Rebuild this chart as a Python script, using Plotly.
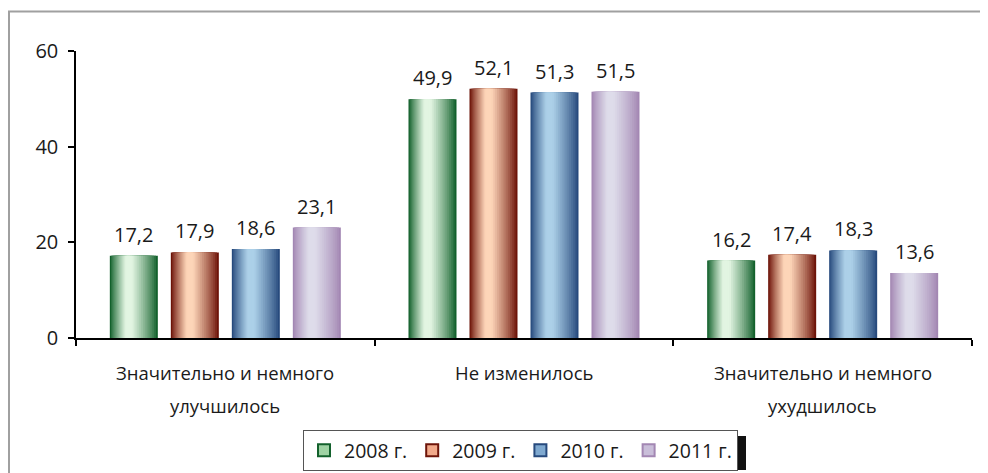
import plotly.graph_objects as go

# ---------------- data ----------------
categories = ["Значительно и немного улучшилось", "Не изменилось",
              "Значительно и немного ухудшилось"]
category_lines = [["Значительно и немного", "улучшилось"],
                  ["Не изменилось"],
                  ["Значительно и немного", "ухудшилось"]]
series_names = ["2008 г.", "2009 г.", "2010 г.", "2011 г."]
v2008 = [17.2, 49.9, 16.2]
v2009 = [17.9, 52.1, 17.4]
v2010 = [18.6, 51.3, 18.3]
v2011 = [23.1, 51.5, 13.6]
series_values = [v2008, v2009, v2010, v2011]
y_ticks = [0, 20, 40, 60]

# ---------------- styles ----------------
FONT = "Open Sans"
TXT = "#1a1a1a"
edge_colors = ["#13612c", "#6d1409", "#274a7d", "#a387b3"]
light_colors = ["#e2f5e2", "#fdd5b8", "#acd0e8", "#dedcea"]
legend_fill = ["#9fd3a4", "#f2a98a", "#7fa9d0", "#c9bed9"]

OFF = 8  # page body margin
W, H = 988 - OFF, 473 - OFF
L, T = 76 - OFF, 51 - OFF
R = W - (972 - OFF)
B = H - (338 - OFF)
PW = W - L - R
PH = H - T - B
cat_px = PW / 3.0
slot = 61 / cat_px
bw = 48 / cat_px
N = 16
peak = 0.38


def hex2rgb(h):
    h = h.lstrip("#")
    return tuple(int(h[i:i + 2], 16) for i in (0, 2, 4))


def mix(a, b, t):
    ra, rb = hex2rgb(a), hex2rgb(b)
    return "rgb(%d,%d,%d)" % tuple(round(ra[i] + (rb[i] - ra[i]) * t) for i in range(3))


def px_x(p):
    return (p - OFF - L) / PW


def px_y(p):
    return (T + PH - (p - OFF)) / PH


fig = go.Figure()

for i, (name, vals) in enumerate(zip(series_names, series_values)):
    center = (i - 1.5) * slot
    for k in range(N):
        t = k / N
        left = -bw / 2 + t * bw * peak
        right = bw / 2 - t * bw * (1 - peak)
        fig.add_trace(go.Bar(
            x=categories, y=vals,
            width=right - left, offset=center + left,
            marker=dict(color=mix(edge_colors[i], light_colors[i], min(1.0, (t * 1.2) ** 0.85)),
                        line=dict(width=0)),
            showlegend=False, hoverinfo="skip",
        ))
    # legend entry
    fig.add_trace(go.Bar(
        x=[None], y=[None], name=name,
        marker=dict(color=legend_fill[i], line=dict(color=edge_colors[i], width=2)),
        showlegend=True,
    ))
    # value labels
    for j, v in enumerate(vals):
        fig.add_annotation(
            x=j + center, y=v, xref="x", yref="y",
            text=("%.1f" % v).replace(".", ","),
            showarrow=False, yanchor="bottom", yshift=6,
            font=dict(family=FONT, size=20, color=TXT),
        )

# category labels
line_y = [px_y(372), px_y(405)]
for j, lines in enumerate(category_lines):
    for li, txt in enumerate(lines):
        fig.add_annotation(
            x=j, y=line_y[li], xref="x", yref="paper",
            text=txt, showarrow=False, yanchor="middle",
            font=dict(family=FONT, size=18.5, color=TXT),
        )

# outer frame
fig.add_shape(type="rect", xref="paper", yref="paper",
              x0=px_x(9), x1=px_x(1010), y0=px_y(500), y1=px_y(11.5),
              line=dict(color="#a0a0a0", width=2), fillcolor="rgba(0,0,0,0)", layer="below")
# legend shadow
fig.add_shape(type="rect", xref="paper", yref="paper",
              x0=px_x(308), x1=px_x(746), y0=px_y(470), y1=px_y(436),
              line=dict(width=0), fillcolor="#111111", layer="above")

fig.update_layout(
    width=W, height=H,
    margin=dict(l=L, r=R, t=T, b=B, autoexpand=False),
    paper_bgcolor="white", plot_bgcolor="white",
    barmode="overlay",
    font=dict(family=FONT, size=19, color=TXT),
    xaxis=dict(
        type="category", range=[-0.5, 2.5],
        showticklabels=False, tickson="boundaries",
        ticks="outside", ticklen=6, tickcolor="black", tickwidth=1.5,
        showline=True, linecolor="black", linewidth=1.5,
        showgrid=False, zeroline=False,
    ),
    yaxis=dict(
        range=[0, 60], tickvals=y_ticks,
        ticks="outside", ticklen=6, tickcolor="black", tickwidth=1.5,
        showline=True, linecolor="black", linewidth=1.5,
        showgrid=False, zeroline=False,
        ticklabelstandoff=6,
        tickfont=dict(family=FONT, size=20, color=TXT),
    ),
    legend=dict(
        orientation="h", x=px_x(303), xanchor="left",
        y=px_y(430), yanchor="top",
        bgcolor="white", bordercolor="#555555", borderwidth=1,
        font=dict(family=FONT, size=19.5, color=TXT),
        itemclick=False,
    ),
    showlegend=True,
)

fig.write_html("out.html")
